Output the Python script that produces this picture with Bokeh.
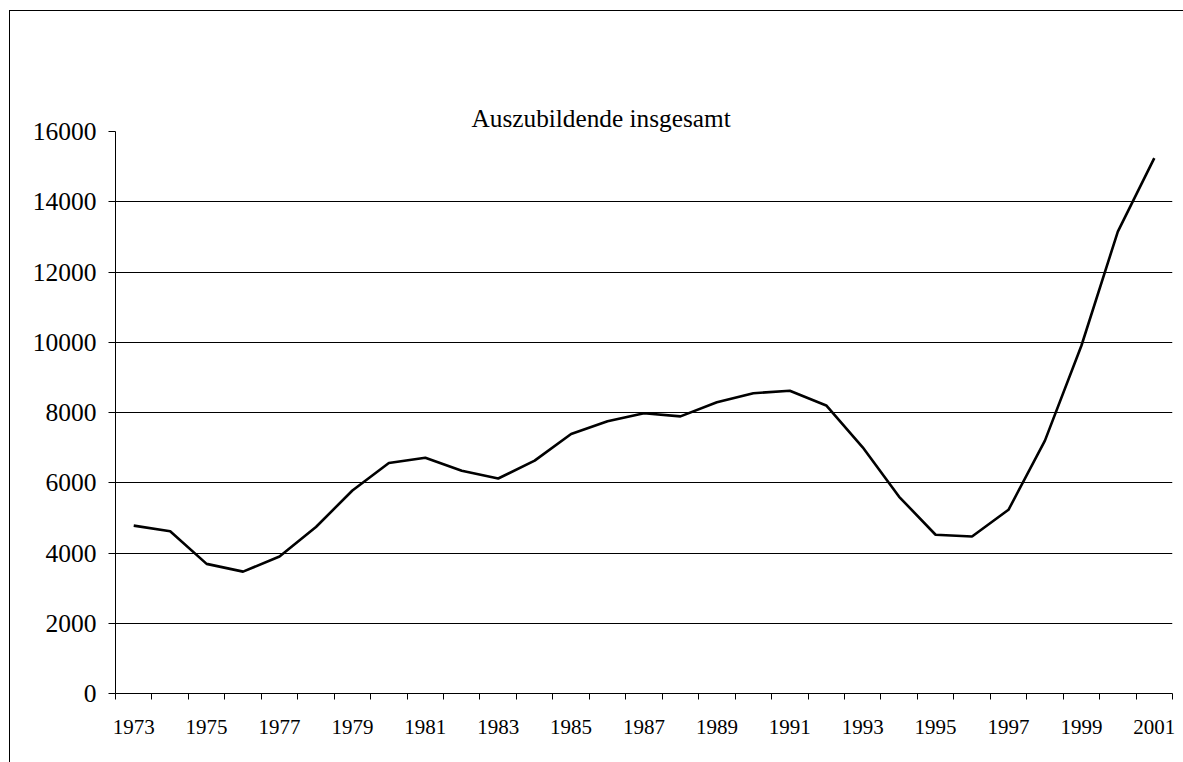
from bokeh.plotting import figure
from bokeh.models import Range1d, FixedTicker, Title, LinearAxis
from bokeh.embed import file_html
from bokeh.resources import INLINE

years = [str(y) for y in range(1973, 2002)]
values = [4780, 4620, 3690, 3470, 3900, 4740, 5780, 6560, 6710, 6340,
          6120, 6630, 7390, 7750, 7980, 7890, 8290, 8550, 8620, 8200,
          7010, 5600, 4520, 4470, 5230, 7200, 9900, 13150, 15240]
y_ticks = [0, 2000, 4000, 6000, 8000, 10000, 12000, 14000, 16000]
x_tick_labels = ["1973", "1975", "1977", "1979", "1981", "1983", "1985", "1987",
                 "1989", "1991", "1993", "1995", "1997", "1999", "2001"]
title_text = "Auszubildende insgesamt"

FONT = "Liberation Serif"
n = len(years)
# category slots: year i sits in the middle of slot [i, i+1]
x_pos = [i + 0.5 for i in range(n)]

W, H = 1183, 762
BL, BR, BT, BB = 115, 11, 131, 69
p = figure(width=W, height=H,
           x_range=Range1d(0, n),
           y_range=Range1d(0, 16000),
           output_backend="svg", toolbar_location=None,
           min_border_left=BL, min_border_right=BR,
           min_border_top=BT, min_border_bottom=BB)

p.stylesheets = [
    ":host { position: relative; }"
    ":host::after { content: ''; position: absolute; left: 9px; top: 10px;"
    " width: calc(100% - 9px); height: calc(100% - 10px);"
    " border-left: 1.5px solid #000; border-top: 1.5px solid #000;"
    " box-sizing: border-box; pointer-events: none; z-index: 100; }"
]
p.border_fill_color = "#ffffff"
p.background_fill_color = "#ffffff"
p.outline_line_color = None

# x axis (the default one below): labels centered in categories, ticks at boundaries
centers = x_pos[::2]
overrides = {c: lab for c, lab in zip(centers, x_tick_labels)}
xax = p.below[0]
xax.ticker = FixedTicker(ticks=centers, minor_ticks=list(range(n + 1)))
xax.major_label_overrides = overrides
xax.major_label_text_font = FONT
xax.major_label_text_font_size = "21px"
xax.major_label_text_color = "#000000"
xax.major_tick_out = 0
xax.major_tick_in = 0
xax.minor_tick_out = 6
xax.minor_tick_in = 0
xax.minor_tick_line_color = "#000000"
xax.axis_line_color = "#000000"
xax.major_label_standoff = 20

# y axis
yax = p.left[0]
yax.ticker = FixedTicker(ticks=y_ticks)
yax.major_label_text_font = FONT
yax.major_label_text_font_size = "25.5px"
yax.major_label_text_color = "#000000"
yax.major_tick_out = 7
yax.major_tick_in = 0
yax.minor_tick_out = 0
yax.minor_tick_in = 0
yax.major_label_standoff = 12
yax.axis_line_color = "#000000"
yax.major_tick_line_color = "#000000"

p.ygrid.ticker = FixedTicker(ticks=y_ticks)
p.ygrid.grid_line_color = "#000000"
p.ygrid.grid_line_width = 1
p.xgrid.visible = False

# invisible spacer between frame and title (keeps the title high up)
spacer = LinearAxis(ticker=FixedTicker(ticks=[]), axis_line_color=None,
                    major_tick_line_color=None, minor_tick_line_color=None,
                    major_tick_out=70, major_tick_in=0,
                    minor_tick_out=0, minor_tick_in=0,
                    major_label_standoff=0)
p.add_layout(spacer, "above")

title = Title(text=title_text, align="left", offset=356, standoff=0,
              vertical_align="bottom", text_font=FONT,
              text_font_size="25.3px", text_font_style="normal",
              text_color="#000000")
p.add_layout(title, "above")

p.line(x=x_pos, y=values, line_color="#000000", line_width=2.6)

open("out.html", "w").write(file_html(p, INLINE))
